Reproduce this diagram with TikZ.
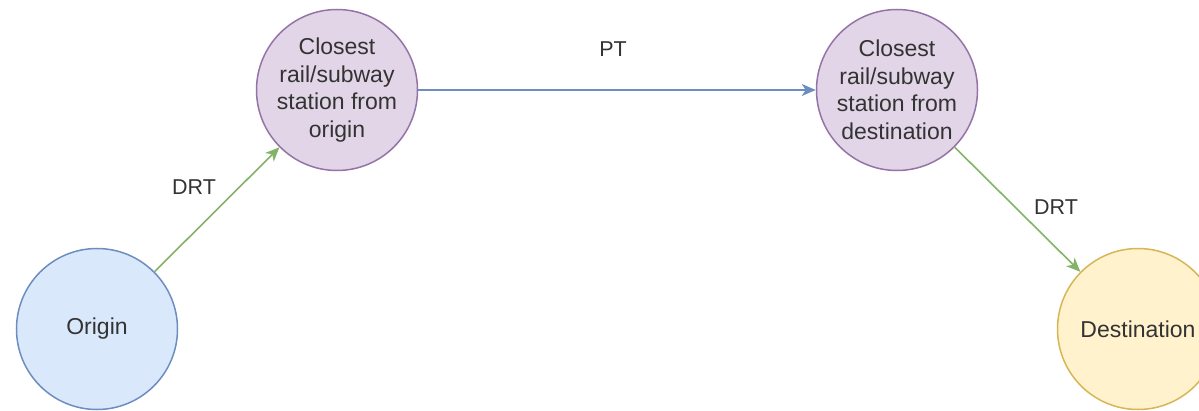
\documentclass[tikz,border=0pt]{standalone}
\usepackage{fontspec}
\setmainfont{Liberation Sans}
\usetikzlibrary{arrows.meta}

\definecolor{blueFill}{HTML}{DAE8FC}
\definecolor{blueLine}{HTML}{6C8EBF}
\definecolor{purpleFill}{HTML}{E1D5E7}
\definecolor{purpleLine}{HTML}{9673A6}
\definecolor{yellowFill}{HTML}{FFF2CC}
\definecolor{yellowLine}{HTML}{D6B656}
\definecolor{greenLine}{HTML}{82B366}
\definecolor{ink}{HTML}{333333}

\tikzset{
  place/.style={circle, draw, line width=1.5pt, minimum size=161pt, inner sep=0pt,
    align=center, text=ink, font=\fontsize{23}{27.5}\selectfont},
  origin/.style={place, fill=blueFill, draw=blueLine},
  station/.style={place, fill=purpleFill, draw=purpleLine},
  destination/.style={place, fill=yellowFill, draw=yellowLine},
  link/.style={line width=1.6pt, -{Stealth[length=14pt,width=12pt,inset=4pt]}},
  tag/.style={text=ink, font=\fontsize{21.5}{25}\selectfont, inner sep=0pt}
}

\begin{document}
\begin{tikzpicture}[x=1pt,y=-1pt]
  \useasboundingbox (0,0) rectangle (1199,411);

  \node[origin] (o) at (97,329) {Origin};
  \node[station] (s1) at (337,90) {Closest\\rail/subway\\station from\\origin};
  \node[station] (s2) at (897,90) {Closest\\rail/subway\\station from\\destination};
  \node[destination] (d) at (1138,329) {Destination};

  \draw[link, greenLine] (o) -- (s1);
  \draw[link, blueLine] (s1) -- (s2);
  \draw[link, greenLine] (s2) -- (d);

  \node[tag] (l1) at (194,187) {DRT};
  \node[tag] (l2) at (613,49) {PT};
  \node[tag] (l3) at (1056,207) {DRT};
\end{tikzpicture}
\end{document}
